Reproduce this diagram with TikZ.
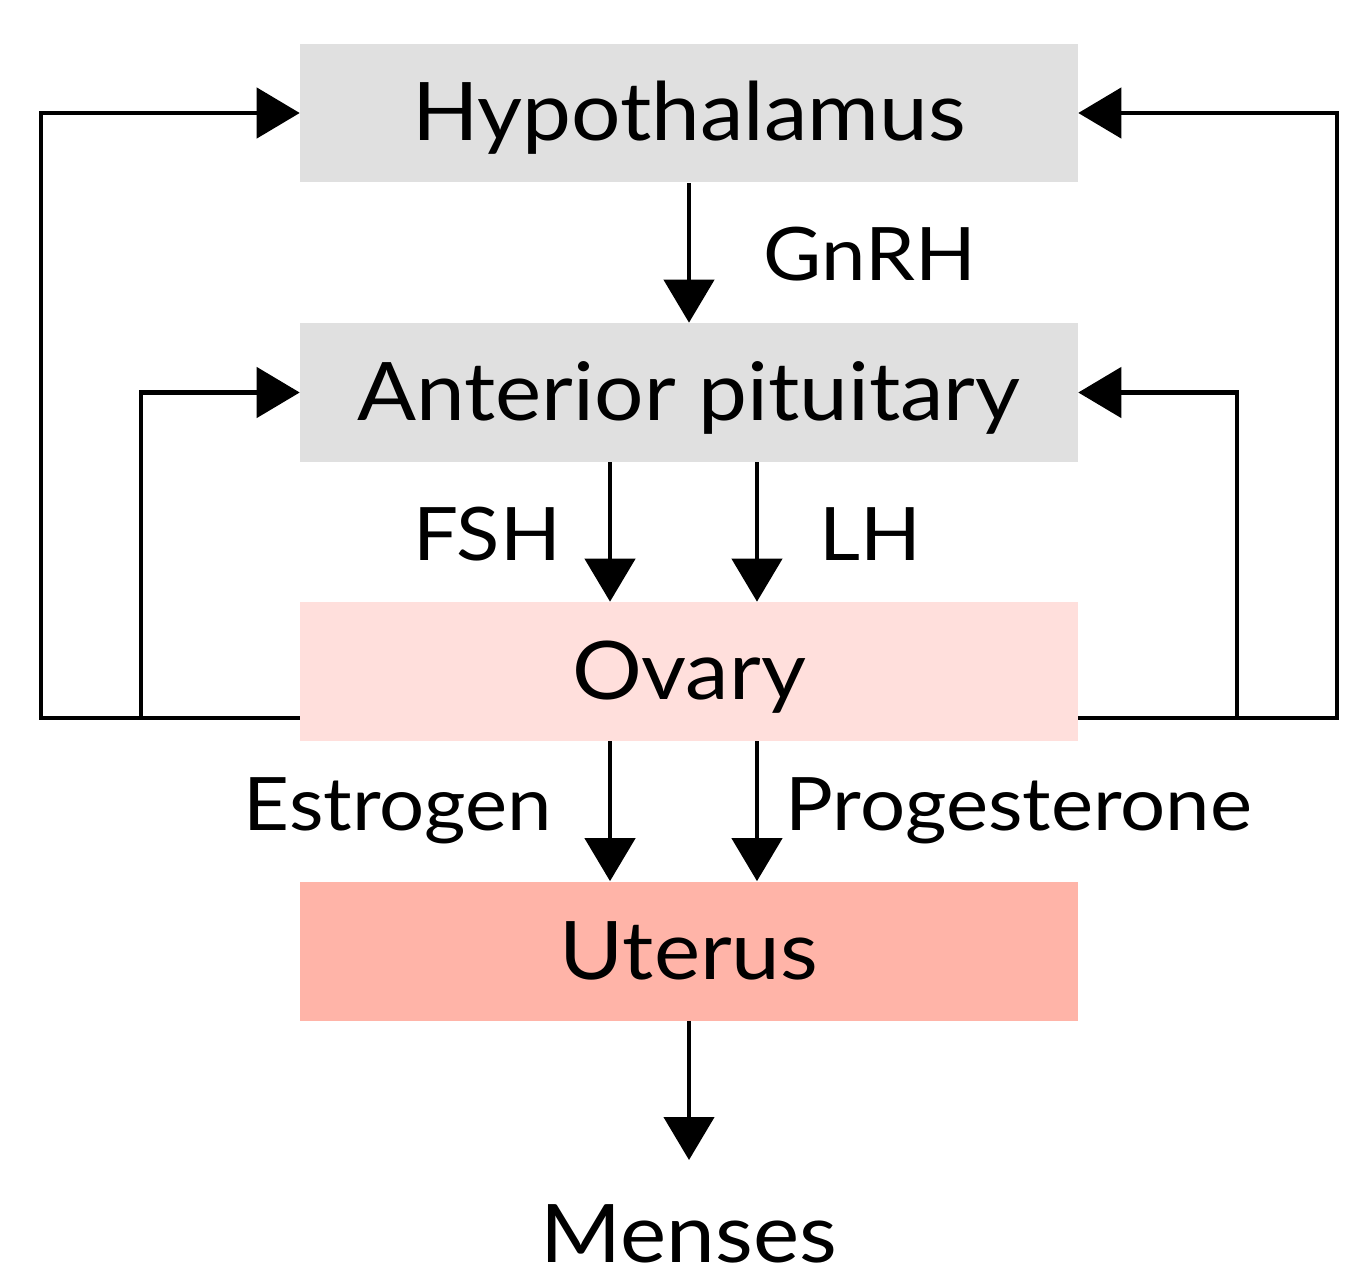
\documentclass[tikz,border=0pt]{standalone}
\usepackage{fontspec}
\setmainfont[FakeStretch=1.08]{Lato}
\usetikzlibrary{arrows.meta}

\definecolor{boxgray}{HTML}{E0E0E0}
\definecolor{ovarypink}{HTML}{FFDFDC}
\definecolor{uteruspink}{HTML}{FFB4A8}

\tikzset{
  organ/.style={minimum width=15.56cm, minimum height=2.78cm, inner sep=0pt,
    text height=1.12cm, text depth=0pt, font=\fontsize{46}{50}\selectfont},
  hormone/.style={anchor=base, inner sep=0pt, font=\fontsize{42}{46}\selectfont},
  arr/.style={line width=2.6pt, -{Triangle[length=0.86cm, width=1cm]}},
  fb/.style={line width=2.6pt}
}

\begin{document}
\begin{tikzpicture}[x=0.02cm, y=-0.02cm]
    \useasboundingbox (0,0) rectangle (1358,1285);

    \node[organ, fill=boxgray] (hyp) at (689,113) {Hypothalamus};
    \node[organ, fill=boxgray] (pit) at (689,392.5) {Anterior pituitary};
    \node[organ, fill=ovarypink] (ova) at (689,671.5) {Ovary};
    \node[organ, fill=uteruspink] (ute) at (689,951) {Uterus};
    \node[anchor=base, inner sep=0pt, font=\fontsize{46}{50}\selectfont] (men) at (689,1262) {Menses};

    \node[hormone] (gnrh) at (870,280) {GnRH};
    \node[hormone] (fsh) at (487,560) {FSH};
    \node[hormone] (lh) at (870,560) {LH};
    \node[hormone] (est) at (398,830) {Estrogen};
    \node[hormone] (pro) at (1019,830) {Progesterone};

    % down the axis
    \draw[arr] (hyp) -- (pit);
    \draw[arr] ([xshift=-1.58cm]pit.south) -- ([xshift=-1.58cm]ova.north);
    \draw[arr] ([xshift=1.36cm]pit.south) -- ([xshift=1.36cm]ova.north);
    \draw[arr] ([xshift=-1.58cm]ova.south) -- ([xshift=-1.58cm]ute.north);
    \draw[arr] ([xshift=1.36cm]ova.south) -- ([xshift=1.36cm]ute.north);
    \coordinate (menstop) at (689,1160);
    \draw[arr] (ute) -- (menstop);

    % feedback from the ovary
    \draw[arr] ([yshift=-0.93cm]ova.west) -| (41,113) -- (hyp.west);
    \draw[arr] (141,718) |- (pit.west);
    \draw[arr] ([yshift=-0.93cm]ova.east) -| (1337,113) -- (hyp.east);
    \draw[arr] (1237,718) |- (pit.east);
\end{tikzpicture}
\end{document}
